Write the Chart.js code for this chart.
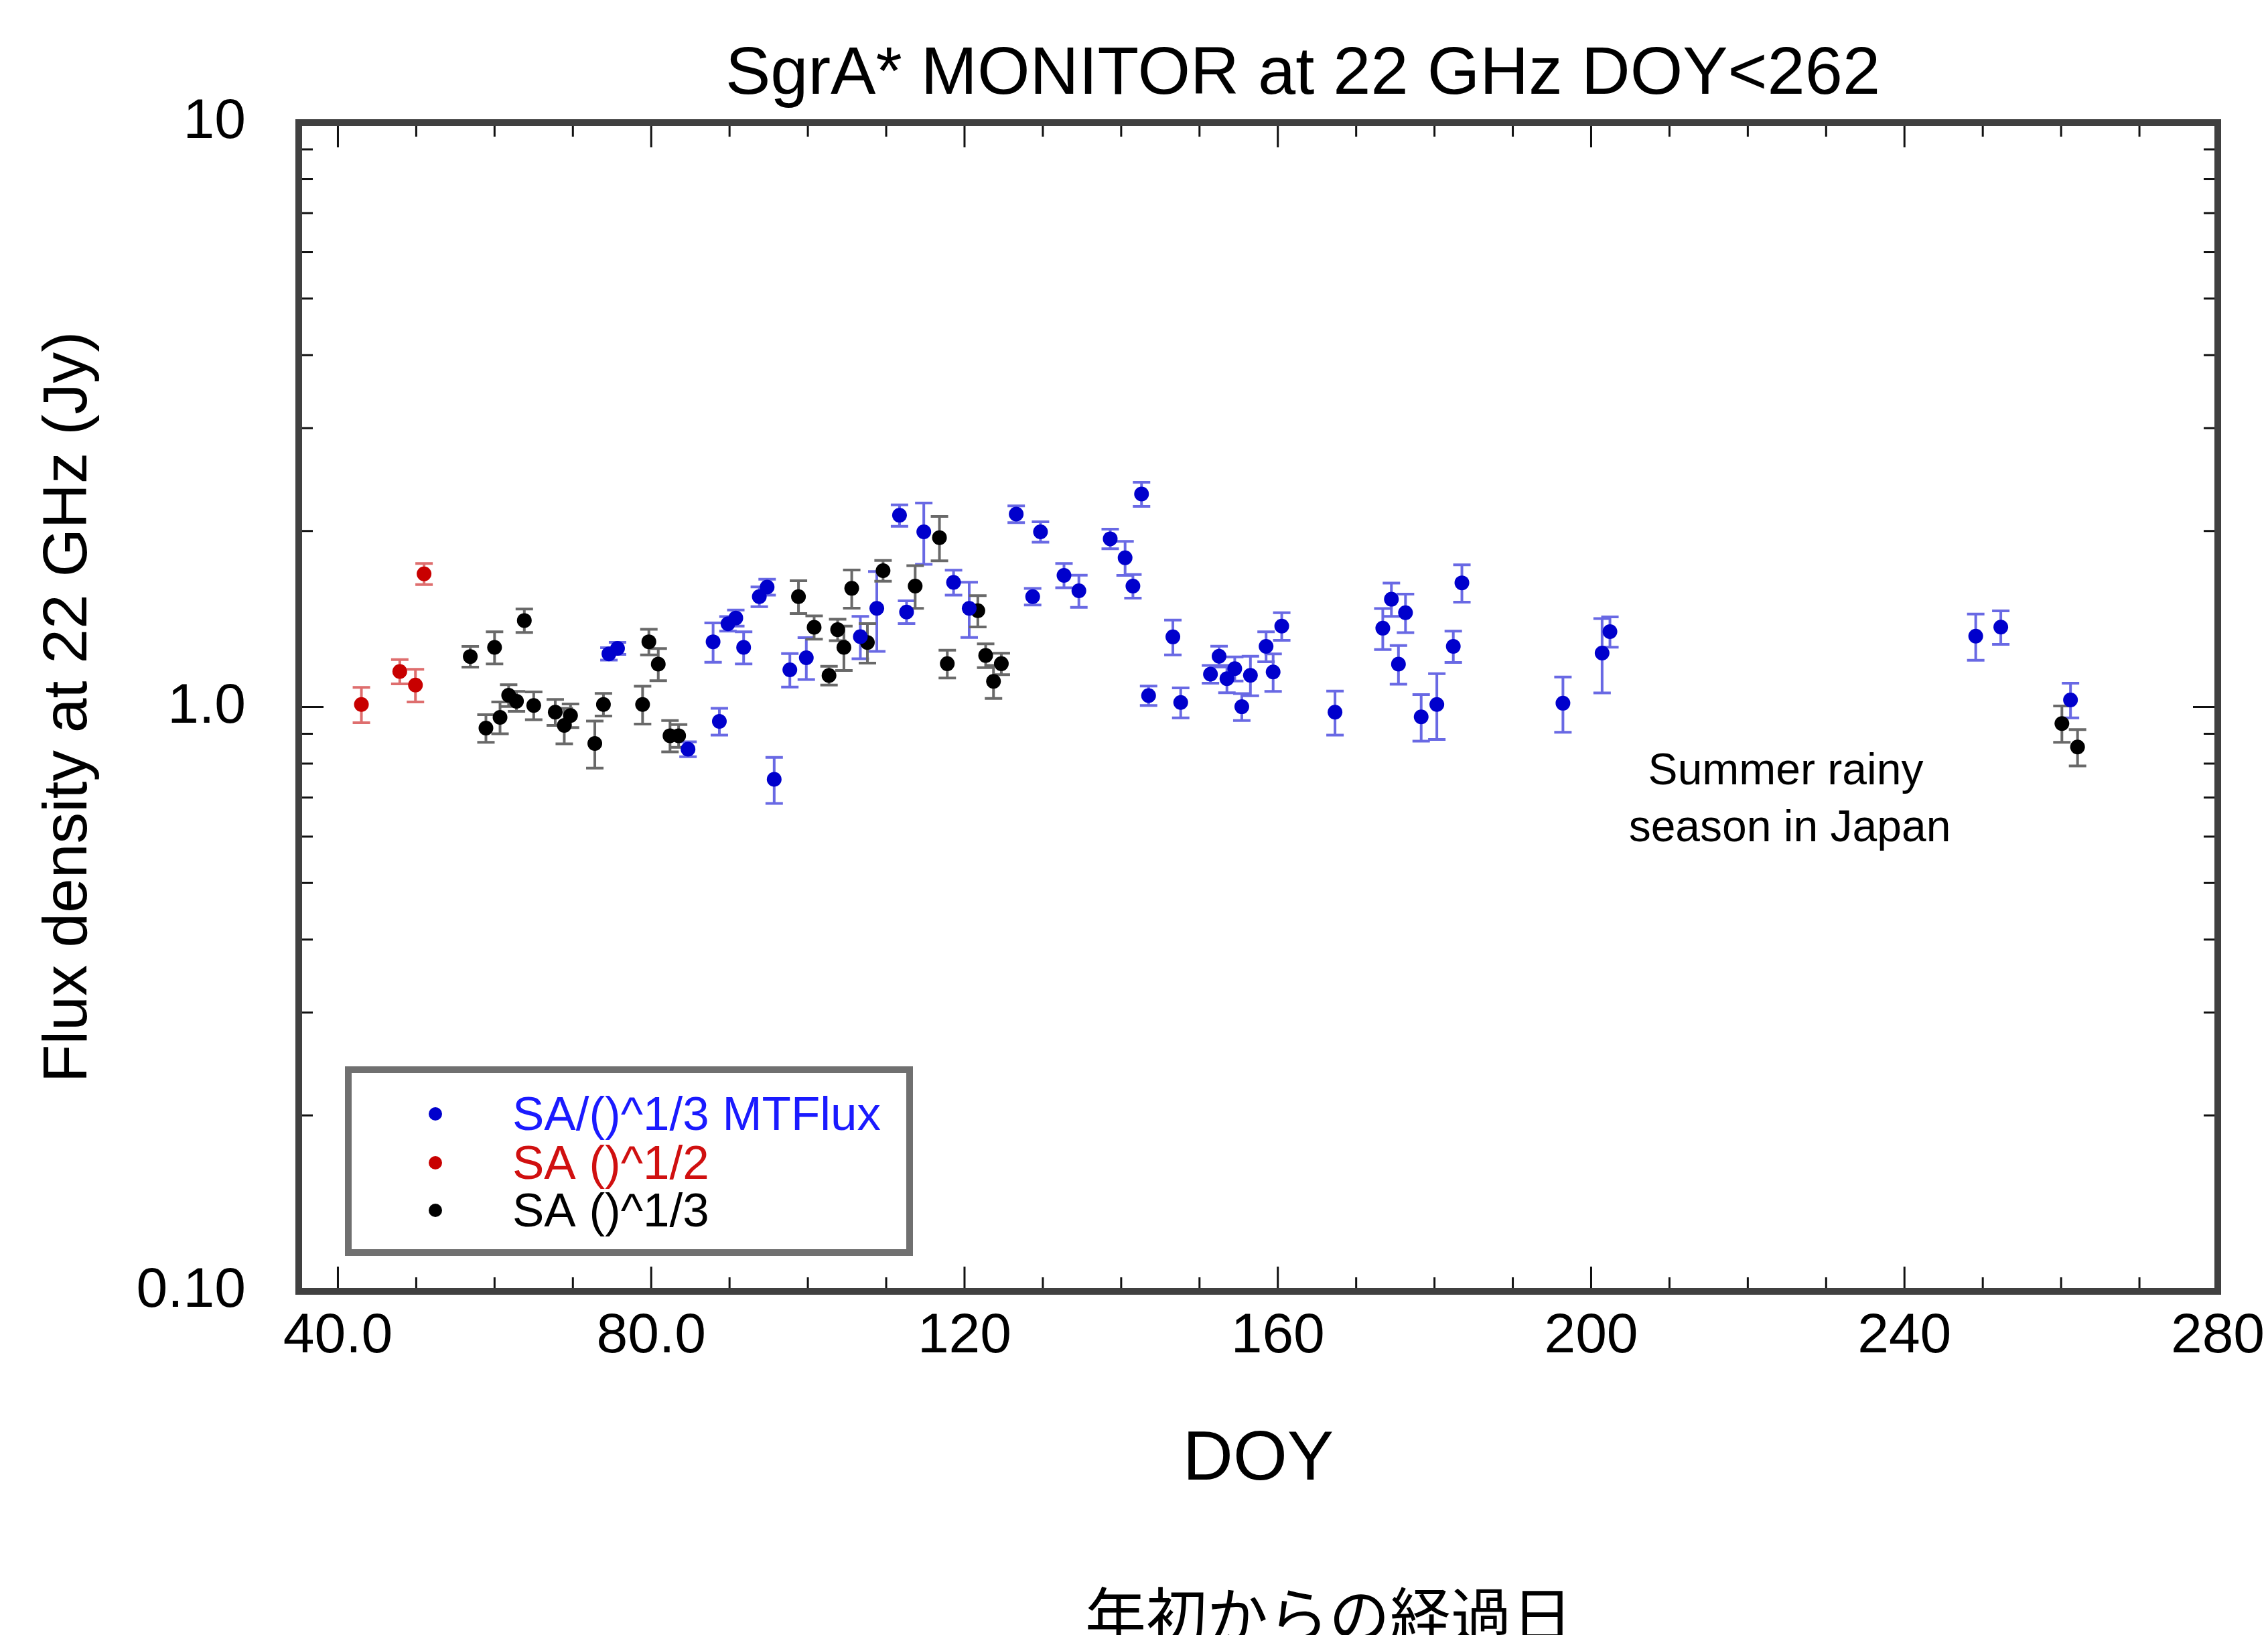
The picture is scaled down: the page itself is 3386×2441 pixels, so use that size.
<!DOCTYPE html>
<html>
<head>
<meta charset="utf-8">
<script src="https://cdn.jsdelivr.net/npm/chart.js@4.4.0/dist/chart.umd.min.js"></script>
<style>
html,body{margin:0;padding:0;background:#fff;}
canvas{display:block;}
</style>
</head>
<body>
<canvas id="c" width="3386" height="2441"></canvas>
<script>
// ---------------- DATA ----------------
const blueLabel = 'SA/()^1/3 MTFlux';
const blueDoy  = [74.6, 75.7, 84.7, 87.9, 88.7, 89.8, 90.8, 91.8, 93.8, 94.8, 95.7, 97.7, 99.8,
                  106.7, 108.8, 111.7, 112.6, 114.8, 118.6, 120.6, 126.6, 128.7, 129.7, 132.7, 134.6,
                  138.6, 140.5, 141.5, 142.6, 143.5, 146.6, 147.6, 151.4, 152.5, 153.5, 154.5, 155.4,
                  156.5, 158.5, 159.4, 160.5, 167.3, 173.4, 174.5, 175.4, 176.3, 178.3, 180.3, 182.4,
                  183.5, 196.4, 201.4, 202.4, 249.1, 252.3, 261.2];
const blueFlux = [1.233, 1.26, 0.847, 1.293, 0.945, 1.388, 1.42, 1.265, 1.545, 1.604, 0.752, 1.158, 1.214,
                  1.319, 1.475, 2.128, 1.454, 1.994, 1.634, 1.475, 2.138, 1.545, 1.994, 1.68, 1.581,
                  1.94, 1.80, 1.61, 2.314, 1.046, 1.318, 1.018, 1.138, 1.221, 1.118, 1.163, 1.001,
                  1.133, 1.27, 1.148, 1.375, 0.98, 1.364, 1.529, 1.184, 1.45, 0.962, 1.01, 1.27,
                  1.631, 1.015, 1.237, 1.346, 1.322, 1.37, 1.028];
const blueErr  = [0.03, 0.03, 0.025, 0.10, 0.05, 0.04, 0.045, 0.08, 0.06, 0.05, 0.068, 0.076, 0.10,
                  0.11, 0.23, 0.09, 0.065, 0.24, 0.08, 0.16, 0.07, 0.05, 0.08, 0.08, 0.10,
                  0.075, 0.12, 0.075, 0.11, 0.04, 0.09, 0.06, 0.04, 0.05, 0.06, 0.055, 0.053,
                  0.088, 0.075, 0.085, 0.075, 0.085, 0.11, 0.10, 0.09, 0.11, 0.088, 0.13, 0.078,
                  0.12, 0.11, 0.18, 0.08, 0.12, 0.09, 0.07];

const redLabel = 'SA ()^1/2';
const redDoy  = [43.0, 47.9, 49.9, 51.0];
const redFlux = [1.01, 1.15, 1.09, 1.69];
const redErr  = [0.07, 0.055, 0.07, 0.07];

const blackLabel = 'SA ()^1/3';
const blackDoy  = [56.9, 58.9, 60.0, 60.7, 61.8, 62.8, 63.8, 65.0, 67.75, 68.9, 69.7, 72.8, 73.9,
                   78.9, 79.7, 80.9, 82.4, 83.5, 98.8, 100.8, 102.7, 103.8, 104.6, 105.6, 107.6,
                   109.6, 113.7, 116.8, 117.8, 121.7, 122.7, 123.7, 124.7, 260.1, 262.1];
const blackFlux = [1.22, 0.92, 1.265, 0.96, 1.047, 1.023, 1.406, 1.006, 0.98, 0.93, 0.967, 0.866, 1.01,
                   1.01, 1.293, 1.184, 0.893, 0.893, 1.545, 1.369, 1.132, 1.356, 1.265, 1.596, 1.289,
                   1.711, 1.61, 1.949, 1.186, 1.461, 1.225, 1.106, 1.186, 0.937, 0.854];
const blackErr  = [0.05, 0.05, 0.08, 0.06, 0.045, 0.04, 0.065, 0.055, 0.05, 0.065, 0.045, 0.08, 0.045,
                   0.075, 0.065, 0.075, 0.055, 0.04, 0.10, 0.063, 0.042, 0.057, 0.11, 0.12, 0.10,
                   0.07, 0.135, 0.17, 0.065, 0.09, 0.057, 0.072, 0.05, 0.067, 0.061];

const xMajorTicks = [40, 80, 120, 160, 200, 240, 280];
const xTickLabels = ['40.0', '80.0', '120', '160', '200', '240', '280'];
const xMinorTicks = [50, 60, 70, 90, 100, 110, 130, 140, 150, 170, 180, 190, 210, 220, 230, 250, 260, 270];
const yMajorTicks = [0.1, 1, 10];
const yTickLabels = ['0.10', '1.0', '10'];
const yMinorTicks = [0.2, 0.3, 0.4, 0.5, 0.6, 0.7, 0.8, 0.9, 2, 3, 4, 5, 6, 7, 8, 9];

const titleText = 'SgrA* MONITOR at 22 GHz DOY<262';
const xTitle = 'DOY';
const yTitle = 'Flux density at 22 GHz (Jy)';
const noteLines = ['Summer rainy', 'season in Japan'];
const captionText = '年初からの経過日';

// ---------------- STYLE ----------------
const FONT = "'Liberation Sans', Arial, Helvetica, sans-serif";
const CJK = "'Noto Sans CJK JP', 'Noto Sans CJK SC', sans-serif";

function pts(xs, ys) { return xs.map((x, i) => ({x: x, y: ys[i]})); }

const datasets = [
  {label: blueLabel, data: pts(blueDoy, blueFlux), errors: blueErr,
   backgroundColor: '#0000cc', borderColor: '#0000cc', errColor: 'rgba(105,105,228,1)', textColor: '#1a1aff'},
  {label: redLabel, data: pts(redDoy, redFlux), errors: redErr,
   backgroundColor: '#c80000', borderColor: '#c80000', errColor: 'rgba(222,110,110,1)', textColor: '#d01010'},
  {label: blackLabel, data: pts(blackDoy, blackFlux), errors: blackErr,
   backgroundColor: '#000000', borderColor: '#000000', errColor: 'rgba(105,105,105,1)', textColor: '#000000'}
].map(d => Object.assign(d, {pointRadius: 11, pointBorderWidth: 0, showLine: false}));

// error bars drawn with the chart's own scales
const errorBarPlugin = {
  id: 'errorBars',
  beforeDatasetsDraw(chart) {
    const {ctx, scales: {x, y}} = chart;
    chart.data.datasets.forEach(ds => {
      ctx.save();
      ctx.strokeStyle = ds.errColor;
      ctx.lineWidth = 4;
      ds.data.forEach((p, i) => {
        const e = ds.errors[i];
        const px = x.getPixelForValue(p.x);
        const yt = y.getPixelForValue(p.y + e);
        const yb = y.getPixelForValue(p.y - e);
        ctx.beginPath();
        ctx.moveTo(px, yt); ctx.lineTo(px, yb);
        ctx.moveTo(px - 13, yt); ctx.lineTo(px + 13, yt);
        ctx.moveTo(px - 13, yb); ctx.lineTo(px + 13, yb);
        ctx.stroke();
      });
      ctx.restore();
    });
  }
};

// frame with inward ticks on all four sides
const framePlugin = {
  id: 'frame',
  beforeDatasetsDraw(chart) {
    const {ctx, chartArea: a, scales: {x, y}} = chart;
    ctx.save();
    ctx.strokeStyle = '#111';
    ctx.lineWidth = 3;
    const tick = (v, len, axis) => {
      ctx.beginPath();
      if (axis === 'x') {
        const px = x.getPixelForValue(v);
        ctx.moveTo(px, a.bottom); ctx.lineTo(px, a.bottom - len);
        ctx.moveTo(px, a.top); ctx.lineTo(px, a.top + len);
      } else {
        const py = y.getPixelForValue(v);
        ctx.moveTo(a.left, py); ctx.lineTo(a.left + len, py);
        ctx.moveTo(a.right, py); ctx.lineTo(a.right - len, py);
      }
      ctx.stroke();
    };
    xMajorTicks.forEach(v => tick(v, 37, 'x'));
    xMinorTicks.forEach(v => tick(v, 21, 'x'));
    yMajorTicks.forEach(v => tick(v, 37, 'y'));
    yMinorTicks.forEach(v => tick(v, 21, 'y'));
    ctx.strokeStyle = '#404040';
    ctx.lineWidth = 10;
    ctx.strokeRect(a.left, a.top, a.right - a.left, a.bottom - a.top);
    ctx.restore();
  }
};

// title, legend box, annotation, caption
const textPlugin = {
  id: 'texts',
  afterDraw(chart) {
    const {ctx} = chart;
    ctx.save();
    ctx.fillStyle = '#000';
    ctx.textAlign = 'center';
    ctx.textBaseline = 'alphabetic';
    ctx.font = '101px ' + FONT;
    ctx.fillText(titleText, 1945, 140);

    ctx.font = '66px ' + FONT;
    ctx.fillText(noteLines[0], 2666, 1171);
    ctx.fillText(noteLines[1], 2672, 1256);

    ctx.font = '91px ' + CJK;
    ctx.fillText(captionText, 1984, 2446);

    // legend
    ctx.fillStyle = '#fff';
    ctx.fillRect(520, 1597, 838, 273);
    ctx.strokeStyle = '#707070';
    ctx.lineWidth = 10;
    ctx.strokeRect(520, 1597, 838, 273);
    const rows = [1663, 1736, 1807];
    ctx.textAlign = 'left';
    ctx.textBaseline = 'middle';
    ctx.font = '71px ' + FONT;
    chart.data.datasets.forEach((ds, i) => {
      ctx.fillStyle = ds.backgroundColor;
      ctx.beginPath();
      ctx.arc(650, rows[i], 10, 0, Math.PI * 2);
      ctx.fill();
      ctx.fillStyle = ds.textColor;
      ctx.fillText(ds.label, 765, rows[i] + 4);
    });
    ctx.restore();
  }
};

new Chart(document.getElementById('c').getContext('2d'), {
  type: 'scatter',
  data: {datasets: datasets},
  options: {
    responsive: false,
    animation: false,
    devicePixelRatio: 1,
    layout: {padding: {left: 0, right: 75, top: 183, bottom: 0}},
    plugins: {legend: {display: false}, title: {display: false}, tooltip: {enabled: false}},
    scales: {
      x: {
        type: 'linear', position: 'bottom', min: 35, max: 280,
        afterBuildTicks: s => { s.ticks = xMajorTicks.map(v => ({value: v})); },
        afterFit: s => { s.height = 513; s.paddingLeft = 0; s.paddingRight = 0; },
        grid: {display: false, drawTicks: false},
        border: {display: false},
        ticks: {padding: 17, color: '#000', font: {family: FONT, size: 84}, maxRotation: 0, autoSkip: false,
                callback: v => xTickLabels[xMajorTicks.indexOf(v)]},
        title: {display: true, text: xTitle, color: '#000', font: {family: FONT, size: 104},
                padding: {top: 0, bottom: 198}}
      },
      y: {
        type: 'logarithmic', position: 'left', min: 0.1, max: 10,
        afterBuildTicks: s => { s.ticks = yMajorTicks.map(v => ({value: v, major: true})); },
        afterFit: s => { s.width = 446; s.paddingTop = 0; s.paddingBottom = 0; },
        grid: {display: false, drawTicks: false},
        border: {display: false},
        ticks: {padding: 79, color: '#000', font: {family: FONT, size: 84}, autoSkip: false,
                callback: v => yTickLabels[yMajorTicks.indexOf(v)]},
        title: {display: true, text: yTitle, color: '#000', font: {family: FONT, size: 93},
                padding: {top: 48, bottom: 0}}
      }
    }
  },
  plugins: [framePlugin, errorBarPlugin, textPlugin]
});
</script>
</body>
</html>
